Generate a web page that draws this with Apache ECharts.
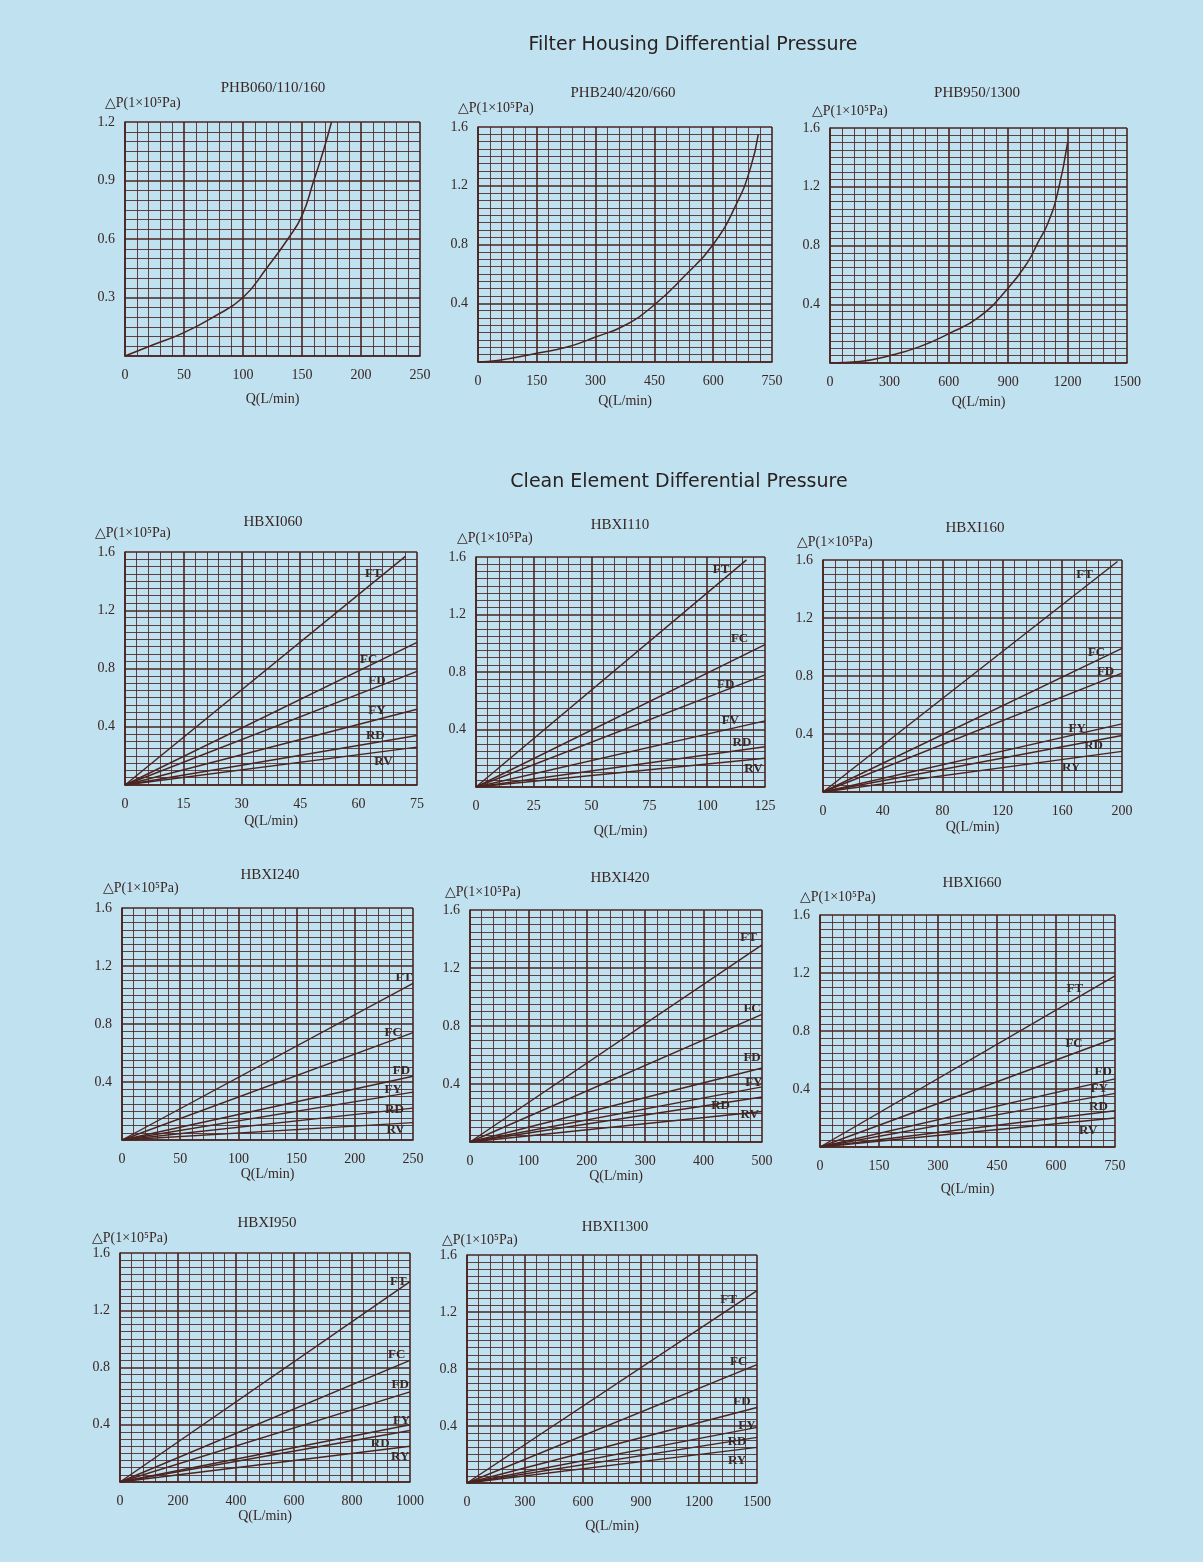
<!DOCTYPE html>
<html><head><meta charset="utf-8">
<script src="https://cdn.jsdelivr.net/npm/echarts@6/dist/echarts.min.js"></script>
<style>html,body{margin:0;padding:0;background:#bfe1f0}#c{width:1203px;height:1562px}</style>
</head><body><div id="c"></div><script>
// ---------- DATA ----------
const housingTitles = ['PHB060/110/160', 'PHB240/420/660', 'PHB950/1300'];
const housingQMax = [250, 750, 1500];
const housingPMax = [1.2, 1.6, 1.6];
const housingPStep = [0.3, 0.4, 0.4];

const phb060Q = [0, 25, 50, 75, 100, 120, 138, 150, 160, 168, 175];
const phb060P = [0, 0.06, 0.12, 0.2, 0.3, 0.45, 0.6, 0.72, 0.9, 1.05, 1.2];
const phb240Q = [0, 50, 150, 225, 300, 375, 450, 525, 600, 660, 695, 715];
const phb240P = [0, 0.01, 0.06, 0.1, 0.17, 0.25, 0.39, 0.58, 0.8, 1.08, 1.32, 1.55];
const phb950Q = [0, 150, 300, 450, 600, 750, 900, 1000, 1050, 1100, 1150, 1200];
const phb950P = [0, 0.01, 0.05, 0.11, 0.2, 0.31, 0.51, 0.69, 0.82, 0.95, 1.16, 1.5];

const elementTitles = ['HBXI060', 'HBXI110', 'HBXI160', 'HBXI240', 'HBXI420', 'HBXI660', 'HBXI950', 'HBXI1300'];
const elementQMax = [75, 125, 200, 250, 500, 750, 1000, 1500];

const hbxi060Codes = ['FT', 'FC', 'FD', 'FY', 'RD', 'RV'];
const hbxi060EndQ = [72, 75, 75, 75, 75, 75];
const hbxi060EndP = [1.57, 0.98, 0.78, 0.52, 0.34, 0.26];
const hbxi060LabQ = [63.8, 62.6, 64.7, 64.7, 64.3, 66.4];
const hbxi060LabP = [1.45, 0.86, 0.72, 0.51, 0.34, 0.16];

const hbxi110Codes = ['FT', 'FC', 'FD', 'FV', 'RD', 'RV'];
const hbxi110EndQ = [117, 125, 125, 125, 125, 125];
const hbxi110EndP = [1.58, 0.99, 0.78, 0.46, 0.28, 0.2];
const hbxi110LabQ = [106, 114, 108, 110, 115, 120];
const hbxi110LabP = [1.51, 1.03, 0.71, 0.46, 0.31, 0.13];

const hbxi160Codes = ['FT', 'FC', 'FD', 'FY', 'RD', 'RY'];
const hbxi160EndQ = [197, 200, 200, 200, 200, 200];
const hbxi160EndP = [1.59, 0.99, 0.82, 0.47, 0.39, 0.28];
const hbxi160LabQ = [175, 183, 189, 170, 181, 166];
const hbxi160LabP = [1.5, 0.96, 0.83, 0.44, 0.32, 0.17];

const hbxi240Codes = ['FT', 'FC', 'FD', 'FY', 'RD', 'RV'];
const hbxi240EndQ = [250, 250, 250, 250, 250, 250];
const hbxi240EndP = [1.08, 0.74, 0.44, 0.33, 0.22, 0.12];
const hbxi240LabQ = [242, 233, 240, 233, 234, 235];
const hbxi240LabP = [1.12, 0.74, 0.48, 0.35, 0.21, 0.07];

const hbxi420Codes = ['FT', 'FC', 'FD', 'FY', 'RD', 'RV'];
const hbxi420EndQ = [500, 500, 500, 500, 500, 500];
const hbxi420EndP = [1.36, 0.88, 0.51, 0.38, 0.31, 0.21];
const hbxi420LabQ = [477, 483, 483, 486, 429, 479];
const hbxi420LabP = [1.41, 0.92, 0.58, 0.41, 0.25, 0.19];

const hbxi660Codes = ['FT', 'FC', 'FD', 'FY', 'RD', 'RV'];
const hbxi660EndQ = [750, 750, 750, 750, 750, 750];
const hbxi660EndP = [1.18, 0.75, 0.47, 0.37, 0.25, 0.2];
const hbxi660LabQ = [648, 646, 720, 710, 708, 682];
const hbxi660LabP = [1.09, 0.71, 0.52, 0.4, 0.28, 0.11];

const hbxi950Codes = ['FT', 'FC', 'FD', 'FY', 'RD', 'RY'];
const hbxi950EndQ = [1000, 1000, 1000, 1000, 1000, 1000];
const hbxi950EndP = [1.4, 0.85, 0.63, 0.4, 0.36, 0.25];
const hbxi950LabQ = [960, 954, 966, 971, 897, 966];
const hbxi950LabP = [1.4, 0.89, 0.68, 0.43, 0.27, 0.18];

const hbxi1300Codes = ['FT', 'FC', 'FD', 'FY', 'RD', 'RY'];
const hbxi1300EndQ = [1500, 1500, 1500, 1500, 1500, 1500];
const hbxi1300EndP = [1.35, 0.83, 0.53, 0.39, 0.32, 0.25];
const hbxi1300LabQ = [1353, 1405, 1422, 1448, 1397, 1397];
const hbxi1300LabP = [1.29, 0.85, 0.57, 0.4, 0.29, 0.16];

const sectionTitles = ['Filter Housing Differential Pressure', 'Clean Element Differential Pressure'];
const yName = '\u25B3P(1\u00D710\u2075Pa)';
const xName = 'Q(L/min)';

// ---------- LAYOUT / STYLE ----------
const INK = '#4b2420';
const TXT = '#3a2623';
const SERIF = '"Liberation Serif", "DejaVu Serif", serif';
const SANS = '"DejaVu Sans", "Liberation Sans", sans-serif';
// left, top, width, height, titleX, titleY, yNameLeft, yNameY, xNameOffset
const layout = [
  [125, 122, 295, 234, 273, 88, 105, 103, 44],
  [478, 127, 294, 235, 623, 93, 458, 108, 40],
  [830, 128, 297, 235, 977, 93, 812, 111, 40],
  [125, 552, 292, 233, 273, 522, 95, 533, 37],
  [476, 557, 289, 230, 620, 525, 457, 538, 45],
  [823, 560, 299, 232, 975, 528, 797, 542, 36],
  [122, 908, 291, 232, 270, 875, 103, 888, 33],
  [470, 910, 292, 232, 620, 878, 445, 892, 35],
  [820, 915, 295, 232, 972, 883, 800, 897, 43],
  [120, 1253, 290, 229, 267, 1223, 92, 1238, 35],
  [467, 1255, 290, 228, 615, 1227, 442, 1240, 44]
];

const option = {
  backgroundColor: '#bfe1f0', animation: false,
  grid: [], xAxis: [], yAxis: [], series: [], graphic: []
};

option.graphic.push({type: 'text', x: 693, y: 45, style: {text: sectionTitles[0], font: '19px ' + SANS, fill: '#2a2220', textAlign: 'center', textVerticalAlign: 'middle'}});
option.graphic.push({type: 'text', x: 679, y: 482, style: {text: sectionTitles[1], font: '19px ' + SANS, fill: '#2a2220', textAlign: 'center', textVerticalAlign: 'middle'}});

function addPanel(i, title, qMax, pMax, pStep, yMinor) {
  const L = layout[i];
  option.grid.push({left: L[0], top: L[1], width: L[2], height: L[3], containLabel: false});
  option.xAxis.push({
    gridIndex: i, type: 'value', min: 0, max: qMax, interval: qMax / 5,
    axisLine: {show: true, lineStyle: {color: INK, width: 1.6}},
    axisTick: {show: false},
    minorTick: {show: false, splitNumber: 5},
    splitLine: {show: true, lineStyle: {color: INK, width: 1.6}},
    minorSplitLine: {show: true, lineStyle: {color: INK, width: 0.85}},
    axisLabel: {color: TXT, fontFamily: SERIF, fontSize: 14, margin: 12, formatter: v => String(v)},
    name: xName, nameLocation: 'middle', nameGap: L[8] - 8,
    nameTextStyle: {color: TXT, fontFamily: SERIF, fontSize: 14}
  });
  option.yAxis.push({
    gridIndex: i, type: 'value', min: 0, max: pMax, interval: pStep,
    axisLine: {show: true, lineStyle: {color: INK, width: 1.6}},
    axisTick: {show: false},
    minorTick: {show: false, splitNumber: yMinor},
    splitLine: {show: true, lineStyle: {color: INK, width: 1.6}},
    minorSplitLine: {show: true, lineStyle: {color: INK, width: 0.85}},
    axisLabel: {color: TXT, fontFamily: SERIF, fontSize: 14, margin: 10,
      formatter: v => v === 0 ? '' : v.toFixed(1)}
  });
  option.graphic.push({type: 'text', x: L[4], y: L[5], style: {text: title, font: '15px ' + SERIF, fill: TXT, textAlign: 'center', textVerticalAlign: 'middle'}});
  option.graphic.push({type: 'text', x: L[6], y: L[7], style: {text: yName, font: '14px ' + SERIF, fill: TXT, textAlign: 'left', textVerticalAlign: 'middle'}});
}

function curve(i, qs, ps) {
  option.series.push({
    type: 'line', xAxisIndex: i, yAxisIndex: i, showSymbol: false, smooth: 0.5,
    lineStyle: {color: INK, width: 1.5}, data: qs.map((q, k) => [q, ps[k]])
  });
}

function element(i, codes, endQ, endP, labQ, labP) {
  codes.forEach((c, k) => {
    option.series.push({
      type: 'line', name: c, xAxisIndex: i, yAxisIndex: i, showSymbol: false,
      lineStyle: {color: INK, width: 1.4},
      data: [[0, 0], [endQ[k], endP[k]]],
      markPoint: {
        symbol: 'circle', symbolSize: 0, silent: true,
        label: {show: true, position: 'inside', formatter: p => p.name, color: TXT, fontFamily: SERIF, fontSize: 13, fontWeight: 'bold'},
        data: [{name: c, coord: [labQ[k], labP[k]]}]
      }
    });
  });
}

addPanel(0, housingTitles[0], housingQMax[0], housingPMax[0], housingPStep[0], 6);
addPanel(1, housingTitles[1], housingQMax[1], housingPMax[1], housingPStep[1], 8);
addPanel(2, housingTitles[2], housingQMax[2], housingPMax[2], housingPStep[2], 8);
curve(0, phb060Q, phb060P);
curve(1, phb240Q, phb240P);
curve(2, phb950Q, phb950P);

for (let j = 0; j < elementTitles.length; j++) {
  addPanel(3 + j, elementTitles[j], elementQMax[j], 1.6, 0.4, 8);
}
element(3, hbxi060Codes, hbxi060EndQ, hbxi060EndP, hbxi060LabQ, hbxi060LabP);
element(4, hbxi110Codes, hbxi110EndQ, hbxi110EndP, hbxi110LabQ, hbxi110LabP);
element(5, hbxi160Codes, hbxi160EndQ, hbxi160EndP, hbxi160LabQ, hbxi160LabP);
element(6, hbxi240Codes, hbxi240EndQ, hbxi240EndP, hbxi240LabQ, hbxi240LabP);
element(7, hbxi420Codes, hbxi420EndQ, hbxi420EndP, hbxi420LabQ, hbxi420LabP);
element(8, hbxi660Codes, hbxi660EndQ, hbxi660EndP, hbxi660LabQ, hbxi660LabP);
element(9, hbxi950Codes, hbxi950EndQ, hbxi950EndP, hbxi950LabQ, hbxi950LabP);
element(10, hbxi1300Codes, hbxi1300EndQ, hbxi1300EndP, hbxi1300LabQ, hbxi1300LabP);

const chart = echarts.init(document.getElementById('c'), null, {renderer: 'canvas'});
chart.setOption(option);
</script></body></html>
